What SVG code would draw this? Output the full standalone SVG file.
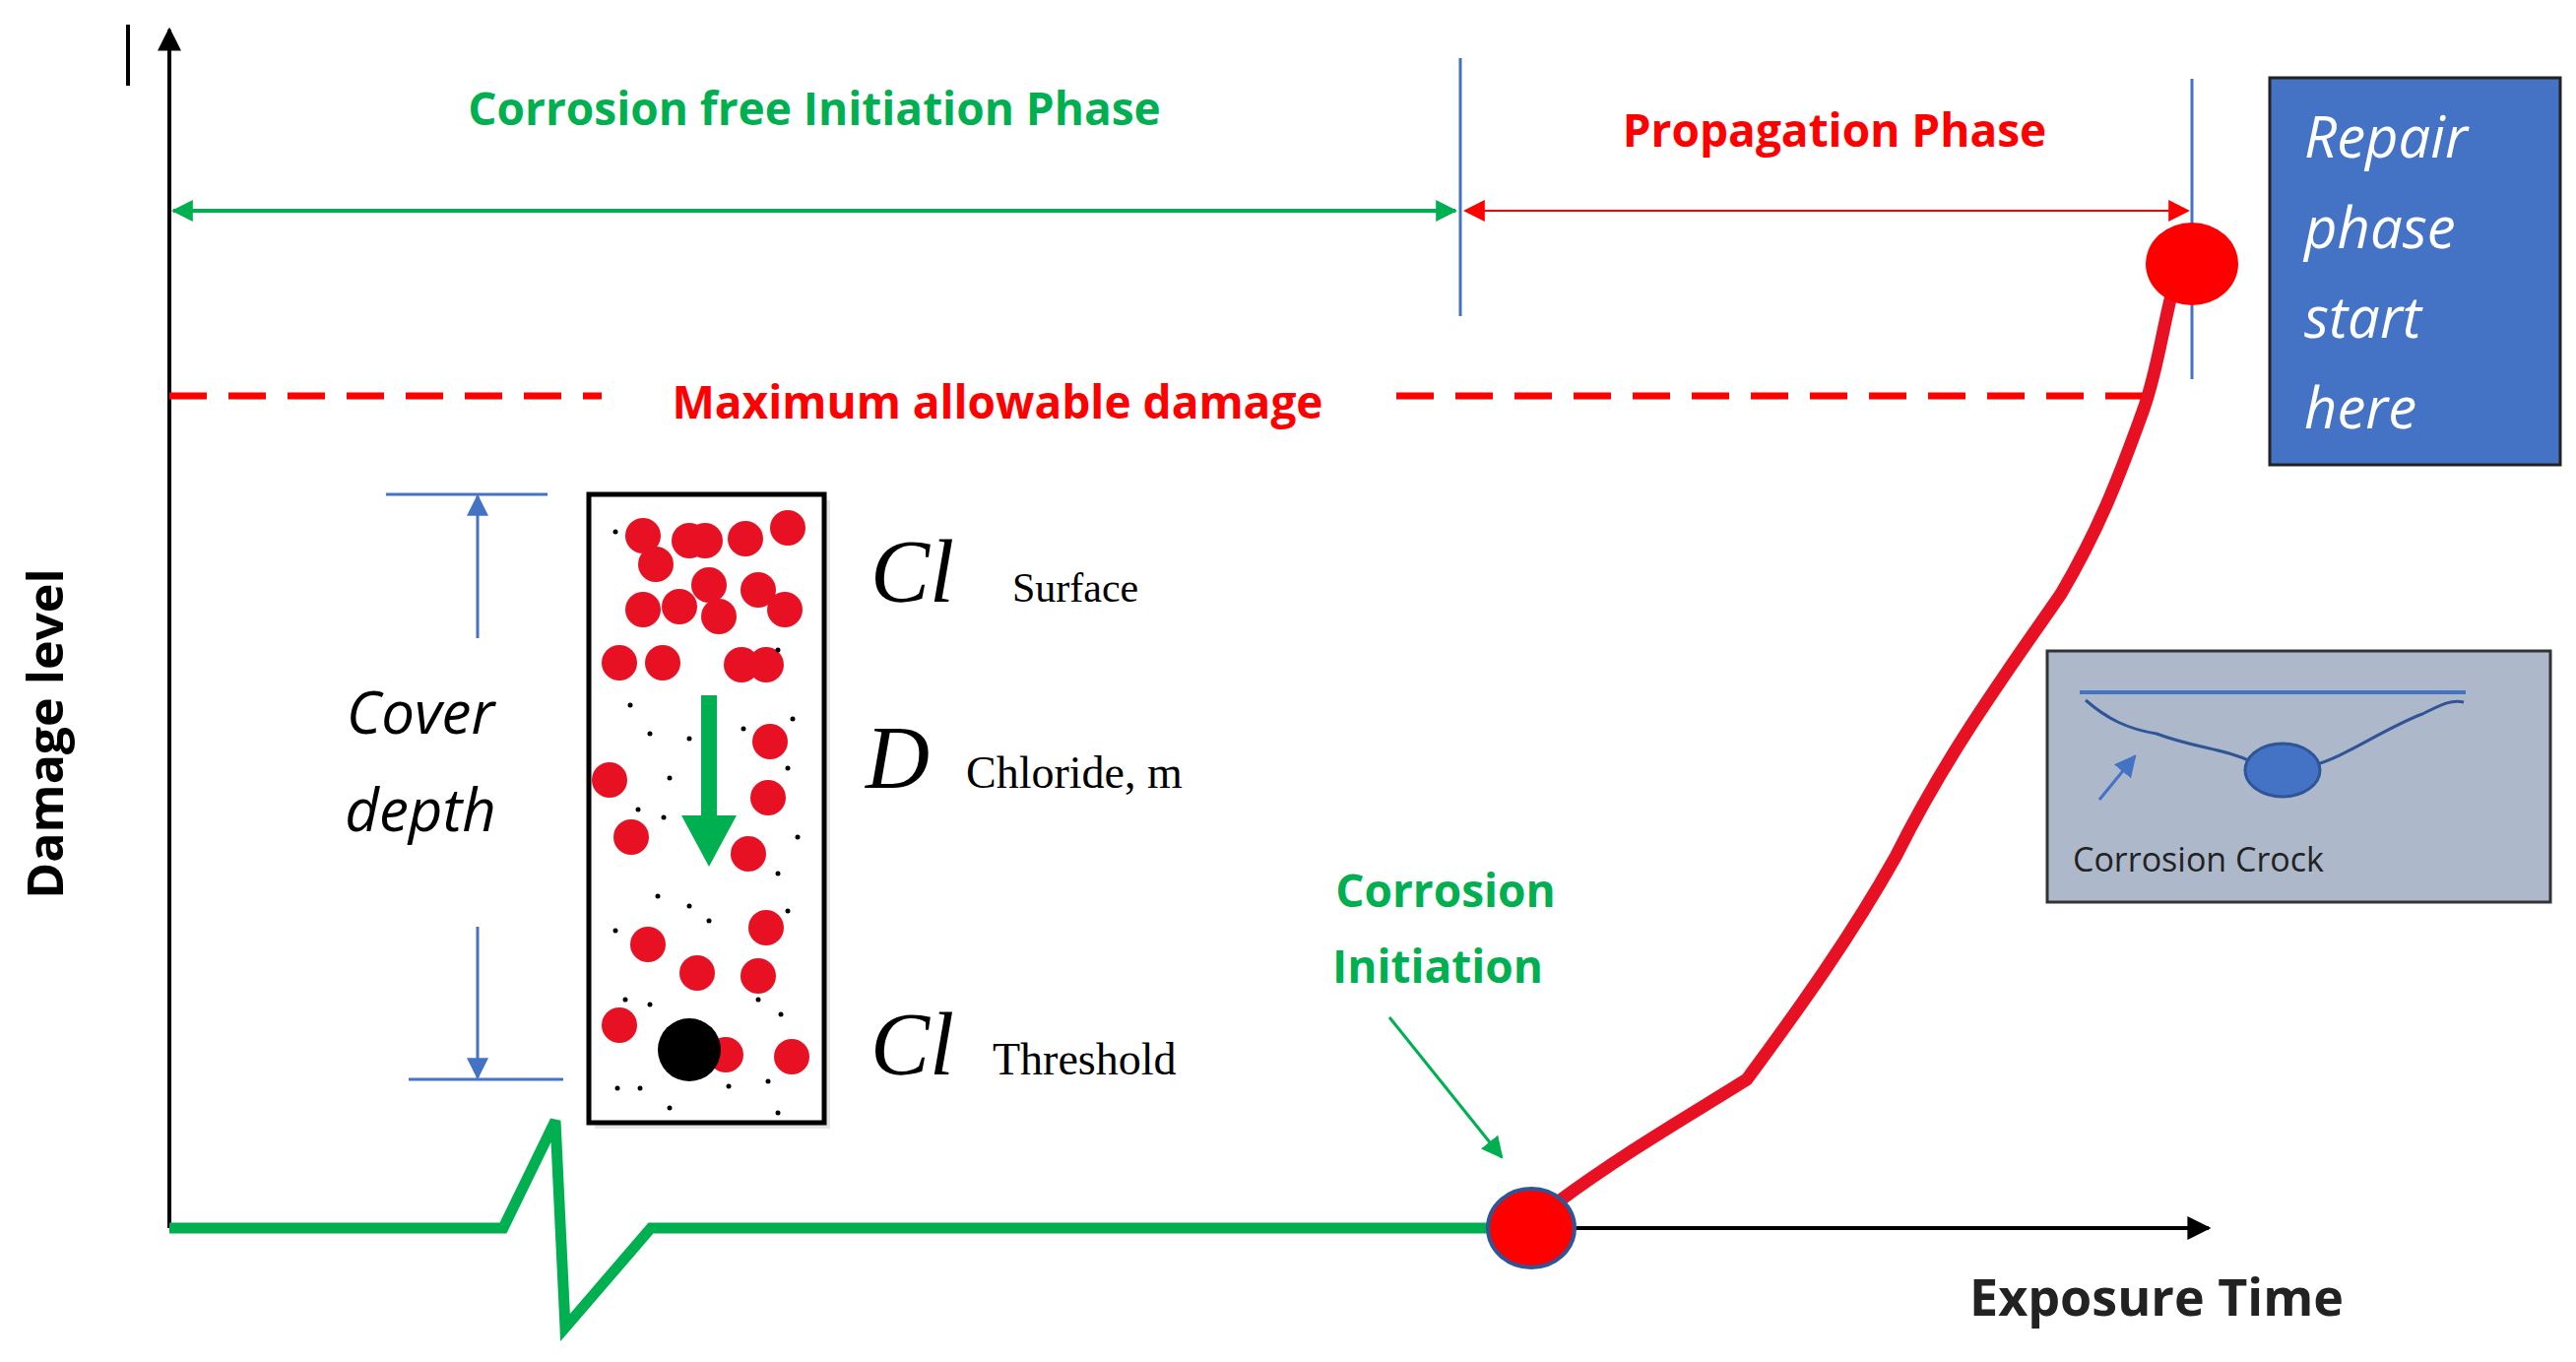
<svg xmlns="http://www.w3.org/2000/svg" width="2616" height="1383" viewBox="0 0 2616 1383">
<style>
.ax{stroke:#000;stroke-width:4;fill:none}
.bl{stroke:#4472c4;stroke-width:3;fill:none}
.sans{font-family:"Open Sans","Liberation Sans",sans-serif}
.g{fill:#00b050;font-weight:bold}
.r{fill:#ff0000;font-weight:bold}
.ser{font-family:"Liberation Serif",serif;fill:#000}
.rd{fill:#e81123}
.dt{fill:#000}
</style>
<defs>
<marker id="ak" markerWidth="10" markerHeight="10" refX="9" refY="5" orient="auto" markerUnits="userSpaceOnUse"><path d="M0,0 L10,5 L0,10z" fill="#000" transform="scale(1)"/></marker>
<marker id="ab" viewBox="0 0 10 10" markerWidth="24" markerHeight="24" refX="9" refY="5" orient="auto" markerUnits="userSpaceOnUse"><path d="M0,0 L10,5 L0,10z" fill="#000"/></marker>
<marker id="ag" viewBox="0 0 10 10" markerWidth="22" markerHeight="22" refX="9" refY="5" orient="auto-start-reverse" markerUnits="userSpaceOnUse"><path d="M0,0 L10,5 L0,10z" fill="#00b050"/></marker>
<marker id="ar" viewBox="0 0 10 10" markerWidth="22" markerHeight="22" refX="9" refY="5" orient="auto-start-reverse" markerUnits="userSpaceOnUse"><path d="M0,0 L10,5 L0,10z" fill="#ff0000"/></marker>
<marker id="abl" viewBox="0 0 10 10" markerWidth="22" markerHeight="22" refX="9" refY="5" orient="auto" markerUnits="userSpaceOnUse"><path d="M0,0 L10,5 L0,10z" fill="#4472c4"/></marker>
<marker id="agr" viewBox="0 0 10 10" markerWidth="22" markerHeight="22" refX="9" refY="5" orient="auto" markerUnits="userSpaceOnUse"><path d="M0,0 L10,5 L0,10z" fill="#00b050"/></marker>
</defs>
<rect width="2616" height="1383" fill="#fff"/>
<g id="axes">
<line class="ax" x1="130" y1="25" x2="130" y2="87" stroke-width="2"/>
<line class="ax" x1="172" y1="1247" x2="172" y2="30" marker-end="url(#ab)"/>
<line class="ax" x1="1555" y1="1247" x2="2243" y2="1247" marker-end="url(#ab)"/>
<text class="sans" font-weight="bold" font-size="50" text-anchor="middle" transform="translate(64,745) rotate(-90)" font-family="Liberation Sans,sans-serif">Damage level</text>
<text class="sans" font-weight="bold" font-size="52" text-anchor="middle" x="2190" y="1336" fill="#222">Exposure Time</text>
</g>
<g id="phases">
<line x1="1483" y1="59" x2="1483" y2="321" class="bl" stroke-width="2"/>
<line x1="2226" y1="80" x2="2226" y2="385" class="bl" stroke-width="2"/>
<line x1="176" y1="214" x2="1478" y2="214" stroke="#00b050" stroke-width="4" marker-start="url(#ag)" marker-end="url(#ag)"/>
<line x1="1488" y1="214" x2="2222" y2="214" stroke="#ff0000" stroke-width="2" marker-start="url(#ar)" marker-end="url(#ar)"/>
<text class="sans g" font-size="46" text-anchor="middle" x="827" y="127">Corrosion free Initiation Phase</text>
<text class="sans r" font-size="46" text-anchor="middle" x="1863" y="149">Propagation Phase</text>
<line x1="172" y1="402" x2="611" y2="402" stroke="#ff0000" stroke-width="7" stroke-dasharray="38,22"/>
<line x1="1418" y1="402" x2="2185" y2="402" stroke="#ff0000" stroke-width="7" stroke-dasharray="38,22"/>
<text class="sans r" font-size="46" text-anchor="middle" x="1013" y="425">Maximum allowable damage</text>
</g>
<g id="curves">
<polyline points="172,1247 511,1247 564,1138 574,1348 661,1247 1515,1247" fill="none" stroke="#00b050" stroke-width="11"/>
<path d="M1580,1222 C1650,1170 1720,1130 1774,1096 C1830,1020 1880,950 1925,870 C1980,760 2040,680 2093,603 C2130,540 2150,490 2176,418 C2190,380 2195,340 2205,300" fill="none" stroke="#e81123" stroke-width="13" stroke-linecap="round"/>
<ellipse cx="1555" cy="1247" rx="44" ry="40" fill="#ff0000" stroke="#2f5597" stroke-width="4"/>
<ellipse cx="2226" cy="268" rx="47" ry="42" fill="#ff0000"/>
<line x1="1411" y1="1033" x2="1525" y2="1175" stroke="#00b050" stroke-width="3" marker-end="url(#agr)"/>
<text class="sans g" font-size="46" text-anchor="middle" x="1468" y="921">Corrosion</text>
<text class="sans g" font-size="46" text-anchor="middle" x="1460" y="998">Initiation</text>
</g>
<g id="repair">
<rect x="2305" y="79" width="295" height="393" fill="#4472c4" stroke="#222" stroke-width="3"/>
<g class="sans" font-style="italic" font-size="58" fill="#fff">
<text x="2340" y="160">Repair</text><text x="2340" y="252">phase</text><text x="2340" y="343">start</text><text x="2340" y="435">here</text>
</g>
</g>
<g id="crack">
<rect x="2079" y="661" width="511" height="255" fill="#adb9ca" stroke="#333" stroke-width="3"/>
<line x1="2112" y1="703" x2="2504" y2="703" stroke="#4472c4" stroke-width="4"/>
<path d="M2118,711 C2140,730 2160,740 2190,745 C2230,760 2260,760 2290,775 M2346,778 C2380,770 2420,740 2460,725 C2480,715 2490,710 2502,713" fill="none" stroke="#2f5597" stroke-width="3"/>
<ellipse cx="2318" cy="782" rx="38" ry="27" fill="#4472c4" stroke="#2f5597" stroke-width="3"/>
<line x1="2132" y1="812" x2="2168" y2="768" stroke="#4472c4" stroke-width="3" marker-end="url(#abl)"/>
<text class="sans" font-size="34" fill="#222" x="2105" y="885">Corrosion Crock</text>
</g>
<g id="cover">
<line x1="392" y1="502" x2="556" y2="502" class="bl"/>
<line x1="415" y1="1096" x2="572" y2="1096" class="bl"/>
<line x1="485" y1="648" x2="485" y2="504" class="bl" marker-end="url(#abl)"/>
<line x1="485" y1="941" x2="485" y2="1094" class="bl" marker-end="url(#abl)"/>
<text class="sans" font-style="italic" font-size="60" text-anchor="middle" x="427" y="745">Cover</text>
<text class="sans" font-style="italic" font-size="60" text-anchor="middle" x="427" y="844">depth</text>
<rect x="604" y="508" width="239" height="638" fill="#ccc" opacity="0.5"/>
<rect x="598" y="502" width="239" height="638" fill="#fff" stroke="#000" stroke-width="5"/>
<g class="rd">
<circle cx="653" cy="544" r="18"/><circle cx="666" cy="573" r="18"/><circle cx="700" cy="549" r="18"/><circle cx="716" cy="549" r="18"/><circle cx="757" cy="547" r="18"/><circle cx="800" cy="536" r="18"/><circle cx="720" cy="594" r="18"/><circle cx="770" cy="599" r="18"/><circle cx="653" cy="619" r="18"/><circle cx="690" cy="616" r="18"/><circle cx="730" cy="626" r="18"/><circle cx="797" cy="619" r="18"/><circle cx="629" cy="673" r="18"/><circle cx="673" cy="673" r="18"/><circle cx="753" cy="675" r="18"/><circle cx="778" cy="675" r="18"/><circle cx="782" cy="753" r="18"/><circle cx="619" cy="792" r="18"/><circle cx="780" cy="810" r="18"/><circle cx="641" cy="850" r="18"/><circle cx="760" cy="867" r="18"/><circle cx="778" cy="942" r="18"/><circle cx="658" cy="959" r="18"/><circle cx="708" cy="988" r="18"/><circle cx="770" cy="991" r="18"/><circle cx="629" cy="1041" r="18"/><circle cx="737" cy="1071" r="18"/><circle cx="804" cy="1073" r="18"/>
</g>
<circle cx="700" cy="1066" r="32" fill="#000"/>
<g class="dt">
<circle cx="625" cy="540" r="2.5"/><circle cx="640" cy="716" r="2.5"/><circle cx="660" cy="745" r="2.5"/><circle cx="648" cy="822" r="2.5"/><circle cx="680" cy="790" r="2.5"/><circle cx="674" cy="830" r="2.5"/><circle cx="700" cy="750" r="2.5"/><circle cx="755" cy="740" r="2.5"/><circle cx="790" cy="660" r="2.5"/><circle cx="800" cy="780" r="2.5"/><circle cx="805" cy="730" r="2.5"/><circle cx="790" cy="887" r="2.5"/><circle cx="800" cy="925" r="2.5"/><circle cx="668" cy="910" r="2.5"/><circle cx="700" cy="920" r="2.5"/><circle cx="720" cy="935" r="2.5"/><circle cx="625" cy="945" r="2.5"/><circle cx="635" cy="1015" r="2.5"/><circle cx="660" cy="1020" r="2.5"/><circle cx="770" cy="1015" r="2.5"/><circle cx="793" cy="1030" r="2.5"/><circle cx="627" cy="1105" r="2.5"/><circle cx="650" cy="1105" r="2.5"/><circle cx="680" cy="1125" r="2.5"/><circle cx="740" cy="1103" r="2.5"/><circle cx="780" cy="1098" r="2.5"/><circle cx="790" cy="1130" r="2.5"/><circle cx="810" cy="850" r="2.5"/>
</g>
<line x1="720" y1="706" x2="720" y2="830" stroke="#00b050" stroke-width="16"/>
<path d="M692,828 L748,828 L720,880z" fill="#00b050"/>
<text class="ser" font-style="italic" font-size="90" x="884" y="611">Cl</text>
<text class="ser" font-size="42" x="1028" y="611">Surface</text>
<text class="ser" font-style="italic" font-size="90" x="879" y="800">D</text>
<text class="ser" font-size="46" x="981" y="800">Chloride, m</text>
<text class="ser" font-style="italic" font-size="90" x="884" y="1091">Cl</text>
<text class="ser" font-size="46" x="1008" y="1091">Threshold</text>
</g>
</svg>
